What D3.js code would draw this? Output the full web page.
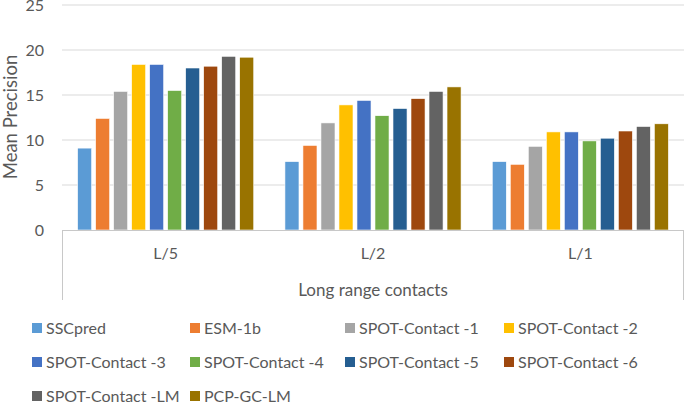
<!DOCTYPE html>
<html>
<head>
<meta charset="utf-8">
<script src="https://cdn.jsdelivr.net/npm/d3@7"></script>
<style>
  body { margin: 0; background: #fff; }
  svg { display: block; font-family: Lato, "Open Sans", sans-serif; }
</style>
</head>
<body>
<svg id="chart" width="685" height="403"></svg>
<script>
// data
var categories = ["L/5", "L/2", "L/1"];
var seriesNames = ["SSCpred", "ESM-1b", "SPOT-Contact -1", "SPOT-Contact -2",
    "SPOT-Contact -3", "SPOT-Contact -4", "SPOT-Contact -5", "SPOT-Contact -6",
    "SPOT-Contact -LM", "PCP-GC-LM"];
var colors = ["#5B9BD5", "#ED7D31", "#A5A5A5", "#FFC000", "#4472C4",
    "#70AD47", "#255E91", "#9E480E", "#636363", "#997300"];
// values per series, one per category
var valuesL5 = [9.1, 12.4, 15.4, 18.4, 18.4, 15.5, 18.0, 18.2, 19.3, 19.2];
var valuesL2 = [7.6, 9.4, 11.9, 13.9, 14.4, 12.7, 13.5, 14.6, 15.4, 15.9];
var valuesL1 = [7.6, 7.3, 9.3, 10.9, 10.9, 9.9, 10.2, 11.0, 11.5, 11.8];
var yTicks = [0, 5, 10, 15, 20, 25];

var byCat = [valuesL5, valuesL2, valuesL1];

var svg = d3.select("#chart");
var textColor = "#595959";

// plot box (don't call it top, window.top is taken)
var plotLeft = 62, plotRight = 684, plotTop = 5, plotBottom = 230;

var y = d3.scaleLinear().domain([0, 25]).range([plotBottom, plotTop]);
var x0 = d3.scaleBand().domain(categories).range([plotLeft, plotRight]).padding(0);
var grp = 15.6;
var x1 = d3.scaleBand().domain(seriesNames)
    .range([grp, x0.bandwidth() - grp])
    .paddingInner(0.22).paddingOuter(0);

// gridlines
svg.append("g")
    .selectAll("line")
    .data(yTicks.slice(1))
    .enter().append("line")
    .attr("x1", plotLeft).attr("x2", plotRight)
    .attr("y1", function(d) { return y(d); })
    .attr("y2", function(d) { return y(d); })
    .attr("stroke", "#d9d9d9")
    .attr("stroke-width", 1);

// y tick labels
svg.append("g")
    .selectAll("text")
    .data(yTicks)
    .enter().append("text")
    .attr("x", 44)
    .attr("y", function(d) { return y(d); })
    .attr("dy", "0.35em")
    .attr("text-anchor", "end")
    .attr("font-size", 16)
    .attr("fill", textColor)
    .text(function(d) { return d; });

// bars
var groups = svg.append("g")
    .selectAll("g")
    .data(categories)
    .enter().append("g")
    .attr("transform", function(d) { return "translate(" + x0(d) + ",0)"; });

groups.selectAll("rect")
    .data(function(d, i) {
        return seriesNames.map(function(s, j) {
            return { name: s, value: byCat[i][j], color: colors[j] };
        });
    })
    .enter().append("rect")
    .attr("x", function(d) { return x1(d.name); })
    .attr("y", function(d) { return y(d.value); })
    .attr("width", x1.bandwidth())
    .attr("height", function(d) { return plotBottom - y(d.value); })
    .attr("fill", function(d) { return d.color; })
    .attr("stroke", "#fff")
    .attr("stroke-width", 0.6);

// category axis box
var axisG = svg.append("g").attr("stroke", "#c8c8c8").attr("stroke-width", 1);
axisG.append("line").attr("x1", plotLeft).attr("x2", plotRight).attr("y1", plotBottom + 0.5).attr("y2", plotBottom + 0.5);
axisG.append("line").attr("x1", plotLeft + 0.5).attr("x2", plotLeft + 0.5).attr("y1", plotBottom).attr("y2", 300);
axisG.append("line").attr("x1", plotRight - 0.5).attr("x2", plotRight - 0.5).attr("y1", plotBottom).attr("y2", 300);

svg.append("g")
    .selectAll("text")
    .data(categories)
    .enter().append("text")
    .attr("x", function(d) { return x0(d) + x0.bandwidth() / 2; })
    .attr("y", 253)
    .attr("dy", "0.35em")
    .attr("text-anchor", "middle")
    .attr("font-size", 16)
    .attr("fill", textColor)
    .text(function(d) { return d; });

svg.append("text")
    .attr("x", (plotLeft + plotRight) / 2)
    .attr("y", 290)
    .attr("dy", "0.35em")
    .attr("text-anchor", "middle")
    .attr("font-size", 17)
    .attr("fill", textColor)
    .text("Long range contacts");

svg.append("text")
    .attr("transform", "translate(11,117) rotate(-90)")
    .attr("dy", "0.35em")
    .attr("text-anchor", "middle")
    .attr("font-size", 18.5)
    .attr("fill", textColor)
    .text("Mean Precision");

// legend
var colX = [32, 190, 345, 504];
var rowY = [328, 362, 396];
var legend = svg.append("g")
    .selectAll("g")
    .data(seriesNames)
    .enter().append("g")
    .attr("transform", function(d, i) {
        return "translate(" + colX[i % 4] + "," + rowY[Math.floor(i / 4)] + ")";
    });
legend.append("rect")
    .attr("x", 0).attr("y", -5)
    .attr("width", 10).attr("height", 10)
    .attr("fill", function(d, i) { return colors[i]; });
legend.append("text")
    .attr("x", 14)
    .attr("dy", "0.35em")
    .attr("font-size", 16)
    .attr("fill", textColor)
    .text(function(d) { return d; });
</script>
</body>
</html>
